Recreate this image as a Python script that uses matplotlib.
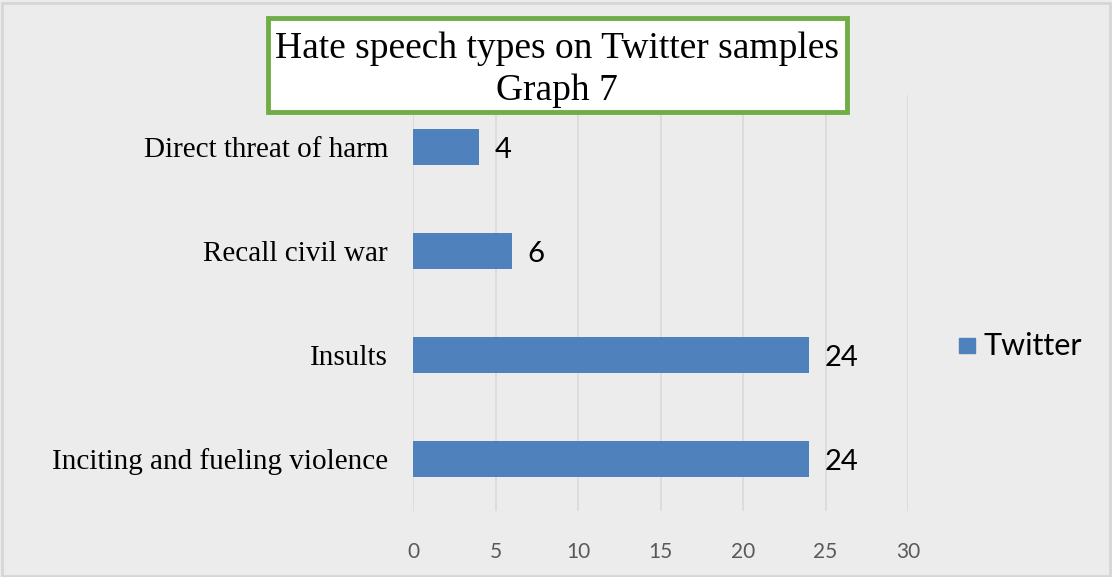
import matplotlib.pyplot as plt
from matplotlib.patches import Rectangle

# data, bottom-to-top order as drawn
categories = ["Inciting and fueling violence", "Insults", "Recall civil war", "Direct threat of harm"]
twitter = [24, 24, 6, 4]
x_ticks = [0, 5, 10, 15, 20, 25, 30]

BG = "#ececec"
BAR = "#4f81bd"
GRID = "#d9d9d9"

fig = plt.figure(figsize=(11.12, 5.77), dpi=100, facecolor=BG)
# outer light border
fig.patches.append(Rectangle((0.002, 0.002), 0.996, 0.993, transform=fig.transFigure,
                             fill=False, edgecolor="#d6d6d6", lw=2))

ax = fig.add_axes([0.3714, 0.1144, 0.4452, 0.7210])
ax.set_facecolor(BG)
ypos = list(range(len(categories)))
ax.barh(ypos, twitter, height=0.35, color=BAR, zorder=3)
ax.set_xlim(0, 30)
ax.set_ylim(-0.5, 3.5)
ax.set_xticks(x_ticks)
ax.set_xticklabels([str(t) for t in x_ticks], fontsize=15, color="#595959", family="Lato")
ax.set_yticks(ypos)
ax.set_yticklabels(categories, fontsize=21, family="Liberation Serif", color="black")
ax.tick_params(axis="both", length=0)
ax.tick_params(axis="x", pad=22)
ax.tick_params(axis="y", pad=18)
ax.grid(axis="x", color=GRID, lw=1.2, zorder=0)
for s in ax.spines.values():
    s.set_visible(False)

# value labels at the bar ends
for y, v in zip(ypos, twitter):
    ax.text(v + 0.95, y - 0.03, str(v), va="center", ha="left", fontsize=21,
            color="black", family="Lato")

# legend
fig.patches.append(Rectangle((959 / 1112, 1 - 353 / 577), 16 / 1112, 15 / 577,
                             transform=fig.transFigure, color=BAR))
fig.text(984 / 1112, 1 - 346 / 577, "Twitter", fontsize=22, va="center", ha="left", family="Lato")

# title box
fig.patches.append(Rectangle((268 / 1112, 1 - 112 / 577), 579 / 1112, 94 / 577,
                             transform=fig.transFigure, facecolor="white",
                             edgecolor="#70ad47", lw=3.5, zorder=5))
fig.text(557 / 1112, 1 - 49 / 577, "Hate speech types on Twitter samples", fontsize=27,
         family="Liberation Serif", ha="center", va="center", zorder=6)
fig.text(557 / 1112, 1 - 91 / 577, "Graph 7", fontsize=27,
         family="Liberation Serif", ha="center", va="center", zorder=6)

fig.savefig("out.png", dpi=100, facecolor=BG)
